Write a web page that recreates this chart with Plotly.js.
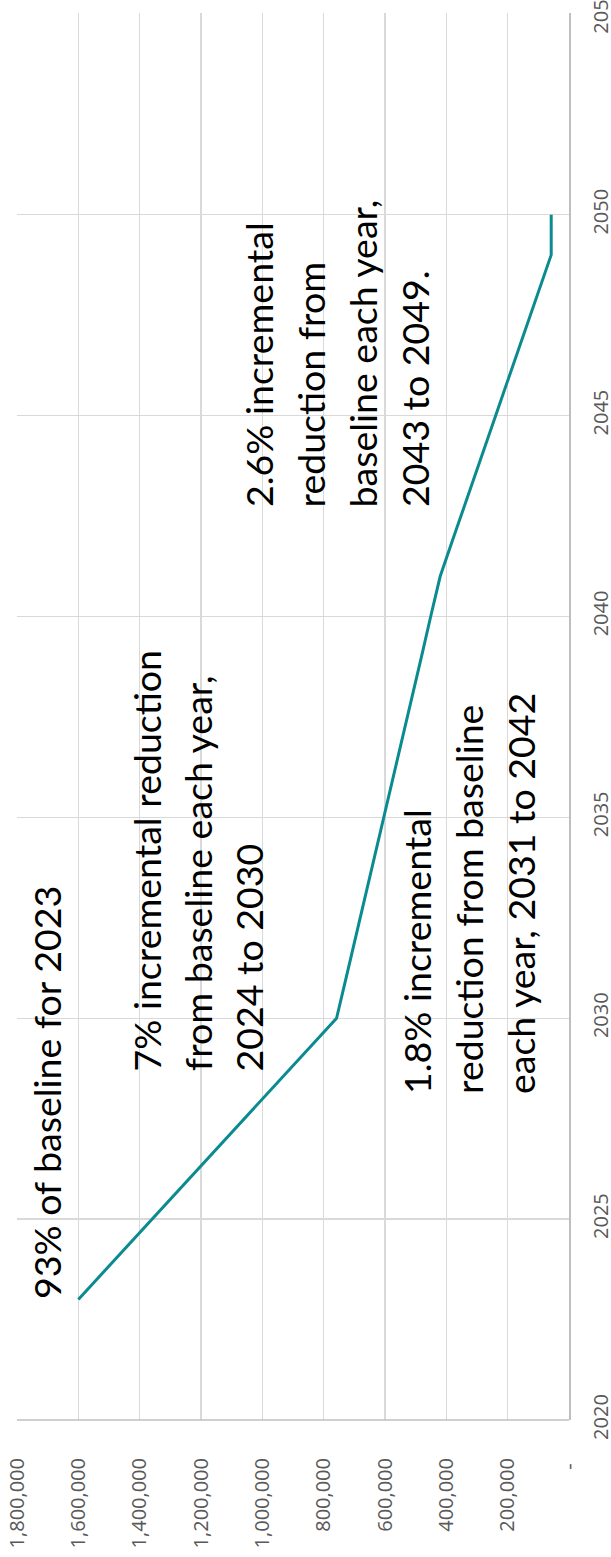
<!DOCTYPE html>
<html>
<head>
<meta charset="utf-8">
<script src="https://cdn.plot.ly/plotly-3.0.1.min.js"></script>
<style>
html,body{margin:0;padding:0;background:#fff;}
#chart{width:611px;height:1557px;}
</style>
</head>
<body>
<div id="chart"></div>
<script>
// Data
const years = [2023,2024,2025,2026,2027,2028,2029,2030,2031,2032,2033,2034,2035,2036,2037,2038,2039,2040,2041,2042,2043,2044,2045,2046,2047,2048,2049,2050];
const emissions = [1600000,1480000,1359000,1239000,1119000,998000,878000,758000,727000,696000,666000,635000,604000,574000,543000,512000,481000,451000,420000,375000,329000,284000,239000,194000,149000,103000,58000,58000];
const yearTicks = [2020,2025,2030,2035,2040,2045,2050,2055];
const valueTicks = [0,200000,400000,600000,800000,1000000,1200000,1400000,1600000,1800000];
const valueTickText = ["-\u00a0","200,000","400,000","600,000","800,000","1,000,000","1,200,000","1,400,000","1,600,000","1,800,000"];

const W = 611, H = 1557;
const M = {l:17, r:42, t:13, b:137};
const pw = W - M.l - M.r, ph = H - M.t - M.b;
function px(x){ return (x - M.l)/pw; }
function py(y){ return (M.t + ph - y)/ph; }

const FS = 37.5;
const annFont = {family:"Lato, 'Open Sans', sans-serif", size:FS, color:"#000"};
// [text, baseline x (px), start y (px)]
const lines = [
  ["93% of baseline for 2023", 61, 1300],
  ["7% incremental reduction", 161, 1072],
  ["from baseline each year,", 212, 1072],
  ["2024 to 2030", 263, 1072],
  ["1.8% incremental", 431, 1095],
  ["reduction from baseline", 483, 1095],
  ["each year, 2031 to 2042", 535, 1095],
  ["2.6% incremental", 273, 508],
  ["reduction from", 325, 508],
  ["baseline each year,", 377, 508],
  ["2043 to 2049.", 429, 508]
];
const annotations = lines.map(l => ({
  text: l[0], xref:'paper', yref:'paper',
  x: px(l[1] - 0.387*FS), y: py(l[2]),
  xanchor:'center', yanchor:'bottom', textangle:-90,
  showarrow:false, font: annFont, borderpad:0
}));

const trace = {
  x: emissions, y: years, type:'scatter', mode:'lines',
  line:{color:'#0b8b90', width:3}, hoverinfo:'skip'
};

const tickFont = {family:"'Open Sans', sans-serif", size:20, color:'#595959'};
const layout = {
  width:W, height:H, margin:M,
  paper_bgcolor:'#fff', plot_bgcolor:'#fff',
  showlegend:false,
  xaxis:{
    range:[1800000,0], tickvals:valueTicks, ticktext:valueTickText,
    tickangle:-90, tickfont:tickFont, showgrid:true, gridcolor:'#d9d9d9', gridwidth:1.3,
    zeroline:false, showline:false, ticks:'', ticklabelstandoff:33, automargin:false
  },
  yaxis:{
    range:[2020,2055.02], tickvals:yearTicks, side:'right',
    tickangle:-90, tickfont:tickFont, showgrid:true, gridcolor:'#d9d9d9', gridwidth:1.3,
    zeroline:false, showline:true, linecolor:'#bfbfbf', linewidth:1.5, ticks:'',
    ticklabelstandoff:13, automargin:false, ticklabeloverflow:'allow'
  },
  shapes:[{type:'line', xref:'paper', yref:'paper', x0:0, x1:1, y0:0, y1:0, line:{color:'#bfbfbf', width:1.5}}],
  annotations: annotations
};
Plotly.newPlot('chart', [trace], layout, {staticPlot:true, displayModeBar:false});
</script>
</body>
</html>
